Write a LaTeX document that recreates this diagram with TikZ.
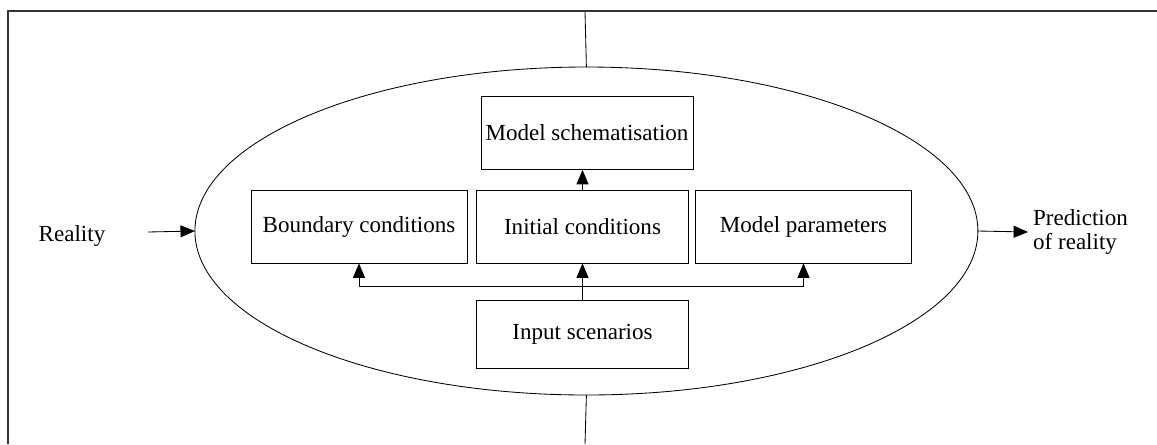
\documentclass[tikz,border=0pt]{standalone}
\usepackage{fontspec}
\setmainfont{Liberation Serif}
\usetikzlibrary{shapes.geometric}
\usetikzlibrary{calc}
\usetikzlibrary{positioning, arrows.meta}

\begin{document}
\begin{tikzpicture}[font=\fontsize{16.4}{17.5}\selectfont, line width=0.6pt]
        % Define styles for shapes
        \tikzstyle{block} = [draw, minimum width=5.3cm, minimum height=1.825cm, inner sep=0pt]
        \tikzstyle{arr} = [-{Triangle[length=0.36cm, width=0.3cm]}]
        \useasboundingbox (0,0) rectangle (28.925,-11.1);
        % Outer frame (cut off by the page)
        \draw[line width=0.9pt, black!80] (28.925,-0.275) -- (0.2,-0.275) -- (0.2,-11.1);

        % Model ellipse
        \node[ellipse, draw, minimum width=19.575cm, minimum height=8.2cm, inner sep=0pt, outer sep=0pt] (model) at (14.66,-5.775) {};

        % Draw shapes
        \node[block] (ms) at (14.675,-3.325) {Model schematisation};
        \node[block, minimum width=5.4cm] (bc) at (8.975,-5.6625) {Boundary conditions};
        \node[block] (ic) at (14.5625,-5.6625) {Initial conditions};
        \node[block, minimum width=5.4cm] (mp) at (20.0875,-5.6625) {Model parameters};
        \node[block, minimum height=1.7cm] (inp) at (14.5625,-8.35) {Input scenarios};

        % Texts outside the ellipse
        \node (real) at (1.8,-5.9) {Reality};
        \node[anchor=west, align=left] (pred) at (25.7,-5.8) {Prediction\\of reality};

        % Free ends
        \coordinate (realout) at (3.7,-5.8);
        \coordinate (topend) at (14.625,-0.3);
        \coordinate (botend) at (14.625,-11.1);
        \coordinate (split) at ($(inp.north)+(0,0.325)$);

        % Draw arrows
        \draw[arr] (realout) -- (model.west);
        \draw[arr] (model.east) -- (pred.west);
        \draw (topend) -- (model.north);
        \draw (model.south) -- (botend);
        \draw[arr] (ic.north) -- (ic.north |- ms.south);
        \draw[arr] (inp.north) -- (ic.south);
        \draw[arr] (split) -| (bc.south);
        \draw[arr] (split) -| (mp.south);
    \end{tikzpicture}
\end{document}
